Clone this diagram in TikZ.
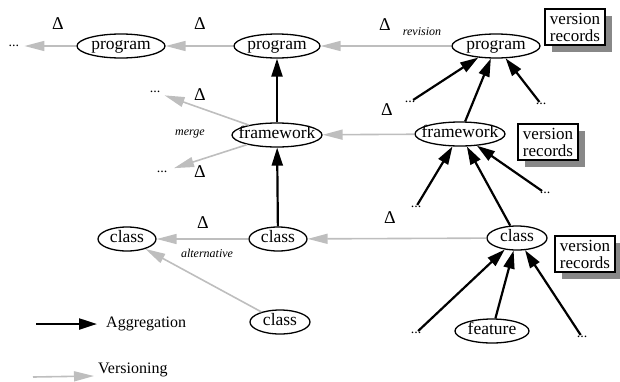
\documentclass[tikz,border=0pt]{standalone}
\usepackage{fontspec}
\setmainfont{Liberation Serif}
\usetikzlibrary{arrows.meta,shapes.geometric}
\definecolor{verg}{RGB}{190,190,190}
\definecolor{shadowgray}{RGB}{136,136,136}

\begin{document}
\begin{tikzpicture}[x=1pt,y=-1pt,font=\fontsize{17.5}{18}\selectfont,
  obj/.style={draw,ellipse,line width=1.3pt,inner xsep=-12pt,inner ysep=0pt,minimum width=#1,minimum height=24pt,text height=11pt,text depth=3.5pt},
  recbox/.style={draw,fill=white,line width=1.3pt,align=center,inner sep=0pt,minimum width=60pt,minimum height=36pt,font=\fontsize{17}{17}\selectfont},
  recshade/.style={fill=shadowgray,draw=none},
  dots/.style={font=\fontsize{14}{14}\selectfont,inner sep=1pt},
  delta/.style={font=\fontsize{18}{18}\selectfont,inner sep=0pt},
  kind/.style={font=\itshape\fontsize{12}{12}\selectfont,inner sep=0pt},
  legend/.style={anchor=west,font=\fontsize{16}{16}\selectfont,inner sep=0pt},
  agg/.style={-{Triangle[length=18pt,width=11pt]},line width=2.2pt},
  ver/.style={-{Triangle[length=20pt,width=10pt]},line width=1.6pt,draw=verg}]
\useasboundingbox (0,0) rectangle (620,381);
% record shadows
\foreach \cx/\cy in {575/27,548/142,585/254}
  \path[recshade] (\cx-30+7,\cy-18+7) rectangle (\cx+30+7,\cy+18+7);
% top row
\node[dots] (dtA) at (14,46) {...};
\node[obj=88pt] (prgA) at (121,46) {program};
\node[obj=86pt] (prgB) at (277,46) {program};
\node[obj=88pt] (prgC) at (496,46) {program};
\node[recbox] (recA) at (575,27) {version\\records};
\node[delta] (dA) at (58,24) {Δ};
\node[delta] (dB) at (200,24) {Δ};
\node[delta] (dC) at (385,25) {Δ};
\node[kind] (rev) at (422,32) {revision};
\draw[ver,shorten >=4pt] (prgA) -- (dtA);
\draw[ver] (prgB) -- (prgA);
\draw[ver] (prgC) -- (prgB);
% framework row
\node[obj=90pt] (fwA) at (277,135) {framework};
\node[obj=90pt] (fwB) at (460,134) {framework};
\node[recbox] (recB) at (548,142) {version\\records};
\node[dots] (dtM1) at (155,92) {...};
\node[dots] (dtM2) at (162,172) {...};
\node[delta] (dD) at (200,95) {Δ};
\node[delta] (dE) at (200,172) {Δ};
\node[kind] (mrg) at (190,134) {merge};
\draw[ver,shorten >=4pt] (fwA) -- (dtM1);
\draw[ver,shorten >=6pt] (fwA) -- (dtM2);
\draw[ver] (fwB) -- (fwA);
\draw[agg] (fwA) -- (prgB);
\node[dots] (dtP1) at (410,102) {...};
\node[dots] (dtP2) at (541,104) {...};
\node[delta] (dF) at (387,110) {Δ};
\draw[agg] (dtP1) -- (prgC);
\draw[agg] (fwB) -- (prgC);
\draw[agg] (dtP2) -- (prgC);
% class row
\node[obj=58pt] (clsA) at (127,239) {class};
\node[obj=58pt] (clsB) at (278,239) {class};
\node[obj=60pt] (clsC) at (517,238) {class};
\node[obj=60pt] (clsD) at (280,322) {class};
\node[recbox] (recC) at (585,254) {version\\records};
\node[delta] (dG) at (203,223) {Δ};
\node[delta] (dH) at (390,218) {Δ};
\node[kind] (alt) at (207,253) {alternative};
\draw[ver] (clsB) -- (clsA);
\draw[ver] (clsC) -- (clsB);
\draw[ver] (clsD) -- (clsA);
\draw[agg] (clsB) -- (fwA);
\node[dots] (dtF1) at (416,207) {...};
\node[dots] (dtF2) at (545,193) {...};
\draw[agg] (dtF1) -- (fwB);
\draw[agg] (clsC) -- (fwB);
\draw[agg] (dtF2) -- (fwB);
% features
\node[dots] (dtC1) at (416,333) {...};
\node[obj=74pt] (feat) at (492,331) {feature};
\node[dots] (dtC2) at (582,337) {...};
\draw[agg] (dtC1) -- (clsC);
\draw[agg] (feat) -- (clsC);
\draw[agg] (dtC2) -- (clsC);
% legend
\coordinate (aggS) at (36,324);
\coordinate (aggE) at (97,324);
\draw[agg] (aggS) -- (aggE);
\node[legend] (aggT) at (106,324) {Aggregation};
\coordinate (verS) at (33,377);
\coordinate (verE) at (94,376);
\draw[ver] (verS) -- (verE);
\node[legend] (verT) at (98,370) {Versioning};
\end{tikzpicture}
\end{document}
